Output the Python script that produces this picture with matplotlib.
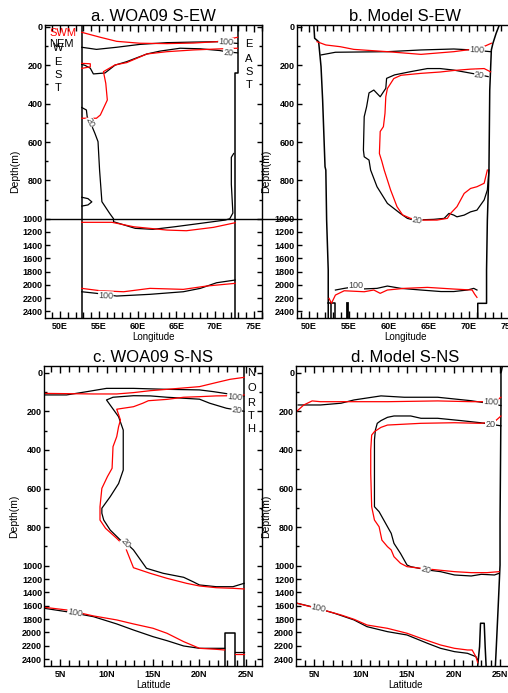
import numpy as np
import matplotlib
matplotlib.use('Agg')
import matplotlib.pyplot as plt
from matplotlib.ticker import FixedLocator, MultipleLocator

plt.rcParams['font.family'] = ['Liberation Sans', 'DejaVu Sans']

# ---- data (lon/lat in degrees, depth in m) ----
dep_ticks = [0, 200, 400, 600, 800, 1000, 1200, 1400, 1600, 1800, 2000, 2200, 2400]
dep_minor = [100, 300, 500, 700, 900]
lon_ticks = [50, 55, 60, 65, 70, 75]
lon_labels = ['50E', '55E', '60E', '65E', '70E', '75E']
lat_ticks = [5, 10, 15, 20, 25]
lat_labels = ['5N', '10N', '15N', '20N', '25N']

# a. WOA09 S-EW
a_wall_w_lon = [52.8, 52.8]
a_wall_w_dep = [-10, 2500]
a_wall_e_lon = [72.9, 72.9, 72.6, 72.6]
a_wall_e_dep = [-10, 242, 242, 2500]
a_swm100_lon = [52.8, 55.2, 57.3, 60.3, 63.8, 67.2, 70.2, 72.9]
a_swm100_dep = [28, 54, 75, 85, 87, 84, 77, 54]
a_nem100_lon = [52.8, 54.7, 57.3, 60.3, 63.8, 67.2, 70.2, 72.9]
a_nem100_dep = [106, 117, 106, 91, 82, 79, 77, 86]
a_swm20_lon = [52.8, 54.7, 55.2, 55.5, 56.1, 55.9, 55.6, 57.1, 58.6, 61.2, 63.8, 67.2, 70.2, 72.9]
a_swm20_dep = [476, 476, 459, 433, 381, 294, 233, 198, 186, 141, 129, 120, 115, 111]
a_swm20_loop_lon = [52.8, 53.9, 53.9, 52.8]
a_swm20_loop_dep = [190, 192, 208, 216]
a_nem20_top_lon = [72.9, 71.7, 70.6, 68.1, 65.5, 62.9, 61.2, 58.6, 57.1, 55.8, 54.3, 53.9, 53.2, 52.8]
a_nem20_top_dep = [135, 131, 123, 114, 111, 126, 141, 181, 199, 240, 245, 215, 200, 195]
a_nem20_lon = [52.8, 53.4, 53.5, 53.9, 54.5, 54.9, 55.1, 55.4, 56.4, 56.9, 56.9, 59.7, 62.0,
               64.8, 68.1, 71.3, 71.9, 72.3, 72.1, 72.1, 72.4]
a_nem20_dep = [420, 433, 468, 497, 555, 598, 746, 911, 972, 1000, 1045, 1145, 1160,
               1121, 1070, 1020, 1000, 970, 820, 680, 660]
a_nem20_loop_lon = [52.8, 53.6, 54.1, 53.6, 52.8]
a_nem20_loop_dep = [888, 895, 912, 928, 934]
a_swm20_deep_lon = [52.8, 56.7, 59.5, 63.8, 66.3, 69.8, 72.6]
a_swm20_deep_dep = [1054, 1054, 1121, 1171, 1181, 1130, 1060]
a_nem100_deep_lon = [52.8, 54.7, 57.3, 61.6, 65.9, 68.1, 70.2, 72.6]
a_nem100_deep_dep = [2103, 2127, 2168, 2142, 2103, 2052, 1967, 1926]
a_swm100_deep_lon = [52.8, 55.2, 58.2, 61.6, 65.9, 68.9, 72.6]
a_swm100_deep_dep = [2052, 2088, 2103, 2052, 2067, 2017, 1976]

# b. Model S-EW
b_wall_w_lon = [50.6, 50.7, 51.2, 51.5, 51.7, 52.0, 52.1, 52.2, 52.4, 52.4]
b_wall_w_dep = [-10, 59, 77, 207, 381, 729, 746, 1020, 1775, 2500]
b_step_w_lon = [52.4, 53.3, 53.3]
b_step_w_dep = [2278, 2278, 2500]
b_post_lon = [52.7, 52.7]
b_post_dep = [2278, 2500]
b_spike_lon = [54.7, 54.7]
b_spike_dep = [2270, 2500]
b_wall_e_lon = [73.8, 73.4, 73.0, 72.8, 72.6, 72.5, 72.3, 72.2, 72.2, 71.1, 71.1]
b_wall_e_dep = [-10, 33, 85, 120, 329, 746, 1020, 1775, 2278, 2278, 2500]
b_nem100_lon = [51.5, 53.3, 59.8, 64.0, 68.1, 70.4, 72.7]
b_nem100_dep = [146, 132, 129, 120, 115, 120, 129]
b_swm100_lon = [51.0, 52.1, 53.9, 55.6, 59.8, 64.0, 68.1, 71.4, 72.8]
b_swm100_dep = [77, 94, 103, 117, 129, 143, 129, 111, 85]
b_nem20_lon = [72.4, 71.4, 69.7, 68.1, 66.4, 64.8, 62.6, 60.7, 59.7, 59.6, 58.9, 58.1, 57.5,
               57.2, 56.9, 56.8, 56.9, 57.5, 57.7, 58.5, 59.8, 61.4, 62.3, 63.1, 65.6, 66.9,
               67.5, 68.1, 68.5, 69.4, 70.2, 71.0, 71.9, 72.3, 72.5]
b_nem20_dep = [259, 250, 237, 225, 217, 217, 234, 250, 268, 320, 364, 329, 344,
               416, 468, 642, 677, 694, 746, 833, 920, 972, 998, 1020, 1009, 998,
               972, 981, 990, 981, 964, 955, 902, 850, 746]
b_swm20_lon = [72.7, 71.9, 70.2, 68.1, 66.4, 64.0, 61.5, 60.6, 59.8, 59.6, 59.5, 59.3, 58.9,
               58.8, 59.1, 59.4, 59.8, 60.2, 61.0, 61.7, 62.7, 64.0, 66.0, 67.3, 67.7, 68.5,
               69.4, 70.2, 71.0, 71.9, 72.3]
b_swm20_dep = [234, 217, 220, 227, 235, 242, 252, 269, 321, 364, 450, 520, 545,
               660, 700, 746, 798, 850, 937, 980, 998, 1020, 1020, 998, 972, 937,
               868, 842, 833, 815, 746]
b_nem100_deep_lon = [53.3, 54.4, 55.2, 56.9, 58.5, 59.8, 61.5, 64.0, 66.5, 68.1, 69.8, 70.6, 71.0]
b_nem100_deep_dep = [2077, 2052, 2037, 2060, 2052, 2017, 2052, 2077, 2100, 2100, 2077, 2052, 2077]
b_swm100_deep_lon = [52.5, 52.8, 53.3, 54.4, 56.9, 58.1, 58.9, 59.8, 61.9, 64.8, 68.1, 70.4, 70.7, 71.0]
b_swm100_deep_dep = [2203, 2278, 2153, 2088, 2103, 2077, 2127, 2077, 2052, 2037, 2062, 2077, 2138, 2188]

# c. WOA09 S-NS
c_wall_lat = [24.8, 24.8]
c_wall_dep = [-35, 2500]
c_box_lat = [22.7, 22.7, 23.8, 23.8]
c_box_dep = [2500, 2013, 2013, 2500]
c_nem100_lat = [3.3, 5.7, 7.9, 10.0, 12.9, 16.5, 20.0, 21.5, 22.6, 23.8, 24.8]
c_nem100_dep = [115, 115, 98, 81, 81, 86, 89, 98, 106, 115, 120]
c_swm100_lat = [3.3, 8.6, 11.1, 12.9, 14.7, 16.5, 20.0, 21.8, 23.3, 24.8]
c_swm100_dep = [107, 110, 110, 103, 93, 86, 72, 51, 34, 24]
c_swm20_lat = [24.8, 23.6, 21.8, 20.0, 18.3, 16.5, 14.5, 13.9, 12.9, 11.1, 11.5, 11.3, 11.1, 10.7,
               10.6, 10.1, 9.5, 9.3, 9.3, 9.9, 11.1, 12.0, 12.9, 14.7, 16.5, 18.6, 20.0, 21.8,
               23.6, 24.8]
c_swm20_dep = [115, 119, 120, 124, 127, 138, 145, 158, 176, 189, 245, 279, 331, 383,
               495, 538, 599, 694, 763, 806, 858, 901, 1029, 1113, 1188, 1263, 1303, 1329,
               1338, 1348]
c_nem20_lat = [24.8, 24.0, 22.9, 21.1, 20.0, 16.5, 14.7, 12.9, 10.7, 10.0, 11.3, 11.8, 11.8, 11.3,
               10.4, 9.5, 9.5, 9.7, 10.4, 11.5, 12.1, 12.9, 14.3, 16.1, 18.3, 19.3, 20.0, 21.8,
               23.6, 24.8]
c_nem20_dep = [200, 193, 184, 158, 137, 127, 120, 119, 127, 141, 228, 297, 504, 574,
               642, 702, 728, 763, 815, 867, 881, 918, 1038, 1113, 1173, 1239, 1288, 1314,
               1314, 1263]
c_nem100_deep_lat = [3.3, 5.7, 8.6, 11.1, 12.9, 15.0, 16.5, 18.3, 20.0, 21.8, 22.7]
c_nem100_deep_dep = [1638, 1689, 1764, 1873, 1964, 2064, 2124, 2204, 2239, 2239, 2239]
c_nem100_east_lat = [23.8, 24.8]
c_nem100_east_dep = [2289, 2289]
c_swm100_deep_lat = [3.3, 5.7, 8.6, 11.1, 12.9, 15.0, 16.5, 18.3, 20.0, 21.8, 22.7]
c_swm100_deep_dep = [1623, 1663, 1753, 1813, 1873, 1938, 2013, 2139, 2239, 2254, 2264]
c_swm100_east_lat = [23.8, 24.8]
c_swm100_east_dep = [2324, 2324]

# d. Model S-NS
d_wall_lat = [25.25, 25.1, 25.1, 25.0, 25.0, 24.8, 24.6, 24.5]
d_wall_dep = [-35, 3, 176, 763, 996, 1614, 2214, 2500]
d_spike_lat = [22.6, 22.8, 22.9, 23.3, 23.4, 23.5]
d_spike_dep = [2500, 2214, 1863, 1863, 2214, 2500]
d_nem100_lat = [3.3, 5.7, 7.9, 9.3, 12.2, 14.7, 18.3, 21.9, 23.0, 25.1]
d_nem100_dep = [167, 167, 158, 141, 120, 127, 127, 145, 153, 170]
d_swm100_lat = [3.1, 3.9, 4.8, 5.7, 7.9, 12.9, 18.3, 21.9, 23.3, 24.7, 25.1]
d_swm100_dep = [202, 167, 146, 150, 150, 150, 146, 150, 150, 141, 127]
d_nem20_lat = [25.1, 24.0, 22.9, 20.8, 18.3, 16.5, 15.4, 13.6, 12.9, 12.2, 11.8, 11.6, 11.5, 11.5,
               11.5, 12.0, 12.5, 13.3, 13.6, 14.3, 15.0, 15.4, 17.2, 18.6, 20.1, 21.9, 23.0,
               24.4, 24.9]
d_nem20_dep = [275, 267, 259, 248, 236, 236, 224, 224, 231, 248, 262, 297, 348, 521,
               694, 720, 763, 832, 884, 936, 996, 1013, 1063, 1088, 1138, 1153, 1128,
               1138, 1113]
d_swm20_lat = [25.1, 24.4, 22.9, 20.1, 16.5, 12.9, 12.2, 11.5, 11.2, 11.1, 11.1, 11.2, 11.5,
               12.0, 12.3, 12.9, 13.3, 13.6, 14.3, 15.0, 16.5, 18.3, 20.1, 21.9, 23.6, 24.9]
d_swm20_dep = [224, 254, 262, 259, 262, 271, 283, 305, 323, 400, 521, 694, 763,
               798, 867, 901, 918, 953, 987, 1013, 1038, 1063, 1088, 1103, 1103, 1088]
d_nem100_deep_lat = [3.2, 5.0, 7.2, 9.3, 10.7, 12.9, 15.0, 17.2, 18.6, 20.1, 21.5, 22.4, 22.6]
d_nem100_deep_dep = [1563, 1623, 1713, 1813, 1914, 1989, 2039, 2164, 2239, 2289, 2314, 2364, 2414]
d_swm100_deep_lat = [3.2, 5.7, 7.9, 9.3, 10.7, 12.9, 15.0, 16.5, 18.6, 20.1, 21.5, 22.0, 22.4, 22.6]
d_swm100_deep_dep = [1563, 1653, 1738, 1803, 1889, 1939, 2013, 2089, 2189, 2239, 2264, 2264, 2364, 2454]


# depth axis is squeezed below 1000 m
K = 0.345


def fwd(d):
    d = np.asarray(d, dtype=float)
    return np.where(d <= 1000, d, 1000 + (d - 1000) * K)


def inv(u):
    u = np.asarray(u, dtype=float)
    return np.where(u <= 1000, u, 1000 + (u - 1000) / K)


def setup(ax, xlim, ytop, ticks, labels, xlabel, title):
    ax.set_yscale('function', functions=(fwd, inv))
    ax.set_xlim(*xlim)
    ax.set_ylim(2500, ytop)
    ax.yaxis.set_major_locator(FixedLocator(dep_ticks))
    ax.yaxis.set_minor_locator(FixedLocator(dep_minor))
    ax.set_yticklabels([str(t) for t in dep_ticks], fontsize=6.5, fontweight='bold')
    ax.set_xticks(ticks)
    ax.set_xticklabels(labels, fontsize=6.5, fontweight='bold')
    ax.xaxis.set_minor_locator(MultipleLocator(1))
    ax.tick_params(which='both', direction='in', top=True, right=True, width=1)
    ax.tick_params(axis='x', which='major', length=5, pad=3)
    ax.tick_params(axis='x', which='minor', length=4)
    ax.tick_params(axis='y', which='major', length=3.5, pad=1.5)
    ax.tick_params(axis='y', which='minor', length=2.5)
    for s in ax.spines.values():
        s.set_linewidth(1.0)
    ax.set_xlabel(xlabel, fontsize=7, labelpad=0.5)
    ax.set_ylabel('Depth(m)', fontsize=7.5, labelpad=2)
    ax.set_title(title, fontsize=12, pad=3)


def line(ax, x, y, c, lw=0.9):
    ax.plot(x, y, color=c, lw=lw, solid_joinstyle='round')


def clabel(ax, x, y, s, rot=0):
    ax.text(x, y, s, fontsize=6.5, color='0.25', ha='center', va='center', rotation=rot,
            bbox=dict(fc='white', ec='none', pad=0.2), zorder=5)


fig = plt.figure(figsize=(5.08, 6.93), dpi=100)
axa = fig.add_axes([0.0886, 0.5411, 0.4272, 0.4228])
axb = fig.add_axes([0.5841, 0.5411, 0.4272, 0.4228])
axc = fig.add_axes([0.0872, 0.0394, 0.4285, 0.4325])
axd = fig.add_axes([0.5833, 0.0394, 0.4285, 0.4325])

setup(axa, (48.06, 76.06), -10, lon_ticks, lon_labels, 'Longitude', 'a. WOA09 S-EW')
setup(axb, (48.46, 75.6), -10, lon_ticks, lon_labels, 'Longitude', 'b. Model S-EW')
setup(axc, (3.31, 26.72), -35, lat_ticks, lat_labels, 'Latitude', 'c. WOA09 S-NS')
setup(axd, (3.1, 26.5), -35, lat_ticks, lat_labels, 'Latitude', 'd. Model S-NS')

# ---- a ----
line(axa, a_wall_w_lon, a_wall_w_dep, 'k', 1.1)
line(axa, a_wall_e_lon, a_wall_e_dep, 'k', 1.1)
line(axa, a_nem100_lon, a_nem100_dep, 'k')
line(axa, a_nem20_top_lon, a_nem20_top_dep, 'k')
line(axa, a_nem20_lon, a_nem20_dep, 'k')
line(axa, a_nem20_loop_lon, a_nem20_loop_dep, 'k')
line(axa, a_nem100_deep_lon, a_nem100_deep_dep, 'k')
line(axa, a_swm100_lon, a_swm100_dep, 'red')
line(axa, a_swm20_lon, a_swm20_dep, 'red')
line(axa, a_swm20_loop_lon, a_swm20_loop_dep, 'red')
line(axa, a_swm20_deep_lon, a_swm20_deep_dep, 'red')
line(axa, a_swm100_deep_lon, a_swm100_deep_dep, 'red')
clabel(axa, 71.4, 80, '100', -4)
clabel(axa, 71.7, 133, '20', -4)
clabel(axa, 53.9, 497, '20', -65)
clabel(axa, 55.9, 2165, '100', -3)
axa.text(48.6, 33, 'SWM', color='red', fontsize=8, va='center')
axa.text(48.6, 91, 'NEM', color='k', fontsize=8, va='center')
for ch, d in zip('WEST', [111, 181, 251, 320]):
    axa.text(49.7, d, ch, fontsize=8, ha='center', va='center')
for ch, d in zip('EAST', [91, 169, 233, 303]):
    axa.text(74.4, d, ch, fontsize=8, ha='center', va='center')
# 1000 m divider running across both top panels
axa.axhline(1000, xmin=0, xmax=2.14, color='k', lw=1.0, clip_on=False, zorder=6)

# ---- b ----
line(axb, b_wall_w_lon, b_wall_w_dep, 'k', 1.1)
line(axb, b_step_w_lon, b_step_w_dep, 'k', 1.1)
line(axb, b_post_lon, b_post_dep, 'k', 1.1)
line(axb, b_spike_lon, b_spike_dep, 'k', 2)
line(axb, b_wall_e_lon, b_wall_e_dep, 'k', 1.1)
line(axb, b_nem100_lon, b_nem100_dep, 'k')
line(axb, b_nem20_lon, b_nem20_dep, 'k')
line(axb, b_nem100_deep_lon, b_nem100_deep_dep, 'k')
line(axb, b_swm100_lon, b_swm100_dep, 'red')
line(axb, b_swm20_lon, b_swm20_dep, 'red')
line(axb, b_swm100_deep_lon, b_swm100_deep_dep, 'red')
clabel(axb, 71.0, 122, '100', -3)
clabel(axb, 71.3, 252, '20', -8)
clabel(axb, 63.5, 1022, '20', -10)
clabel(axb, 55.9, 2010, '100', 0)

# ---- c ----
line(axc, c_wall_lat, c_wall_dep, 'k', 1.1)
line(axc, c_box_lat, c_box_dep, 'k', 1.1)
line(axc, c_nem100_lat, c_nem100_dep, 'k')
line(axc, c_nem20_lat, c_nem20_dep, 'k')
line(axc, c_nem100_deep_lat, c_nem100_deep_dep, 'k')
line(axc, c_nem100_east_lat, c_nem100_east_dep, 'k')
line(axc, c_swm100_lat, c_swm100_dep, 'red')
line(axc, c_swm20_lat, c_swm20_dep, 'red')
line(axc, c_swm100_deep_lat, c_swm100_deep_dep, 'red')
line(axc, c_swm100_east_lat, c_swm100_east_dep, 'red')
clabel(axc, 23.8, 124, '100', -5)
clabel(axc, 24.0, 193, '20', -8)
clabel(axc, 12.1, 881, '20', -50)
clabel(axc, 6.6, 1704, '100', -10)
for ch, d in zip('NORTH', [3, 81, 155, 224, 293]):
    axc.text(25.6, d, ch, fontsize=8, ha='center', va='center')

# ---- d ----
line(axd, d_wall_lat, d_wall_dep, 'k', 1.1)
line(axd, d_spike_lat, d_spike_dep, 'k', 1.1)
line(axd, d_nem100_lat, d_nem100_dep, 'k')
line(axd, d_nem20_lat, d_nem20_dep, 'k')
line(axd, d_nem100_deep_lat, d_nem100_deep_dep, 'k')
line(axd, d_swm100_lat, d_swm100_dep, 'red')
line(axd, d_swm20_lat, d_swm20_dep, 'red')
line(axd, d_swm100_deep_lat, d_swm100_deep_dep, 'red')
clabel(axd, 24.0, 153, '100', -3)
clabel(axd, 24.0, 267, '20', 0)
clabel(axd, 17.0, 1063, '20', -15)
clabel(axd, 5.5, 1640, '100', -12)

fig.savefig('out.png', dpi=100)
